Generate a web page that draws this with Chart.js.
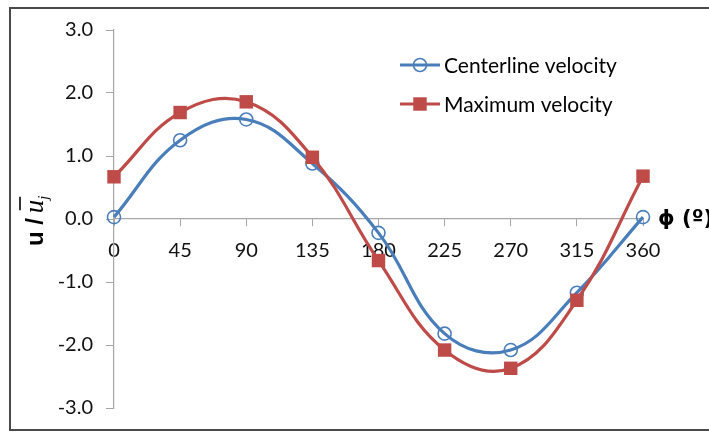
<!DOCTYPE html>
<html>
<head>
<meta charset="utf-8">
<script src="https://cdn.jsdelivr.net/npm/chart.js@4"></script>
<style>
  html, body { margin: 0; padding: 0; background: #fff; }
  #wrap { width: 709px; height: 433px; }
</style>
</head>
<body>
<div id="wrap"><canvas id="chart" width="709" height="433"></canvas></div>
<script>
// phase angle (deg) and normalised velocities
const angles = [0, 45, 90, 135, 180, 225, 270, 315, 360];
const centerline = [0.03, 1.25, 1.58, 0.88, -0.22, -1.82, -2.08, -1.17, 0.03];
const maximum = [0.67, 1.69, 1.86, 0.98, -0.66, -2.08, -2.37, -1.29, 0.68];
const seriesNames = ["Centerline velocity", "Maximum velocity"];
const yRange = [-3, 3];
const xRange = [0, 360];

const BLUE = "#4a7ebb";
const RED = "#be4b48";
const AXIS = "#a6a6a6";
const FONT = "Lato";

function points(ys) {
    return angles.map((a, i) => ({ x: a, y: ys[i] }));
}

// frame, axis titles and the legend box
const decorations = {
    id: "decorations",
    afterDraw(chart) {
        const ctx = chart.ctx;
        const ys = chart.scales.y;
        const area = chart.chartArea;
        ctx.save();

        ctx.strokeStyle = "#4a4a4a";
        ctx.lineWidth = 2;
        ctx.strokeRect(10, 8, 710, 422);

        // x title at the end of the axis
        ctx.fillStyle = "#000";
        ctx.font = "bold 21px 'DejaVu Sans'";
        ctx.textBaseline = "middle";
        ctx.textAlign = "left";
        ctx.fillText("\u03D5 (\u00BA)", area.right + 15, ys.getPixelForValue(0) + 1);

        // y title, rotated: u / ū_j
        ctx.translate(43, 216);
        ctx.rotate(-Math.PI / 2);
        ctx.textBaseline = "alphabetic";
        ctx.textAlign = "left";
        let x = -30;
        ctx.font = "bold 24px 'Liberation Sans'";
        ctx.fillText("u /", x, 0);
        x += ctx.measureText("u / ").width - 2;
        ctx.font = "italic 27px 'Liberation Serif'";
        const uw = ctx.measureText("u").width;
        ctx.fillText("u", x, 0);
        ctx.lineWidth = 1.6;
        ctx.strokeStyle = "#000";
        ctx.beginPath();
        ctx.moveTo(x + 3, -23);
        ctx.lineTo(x + uw + 3, -23);
        ctx.stroke();
        ctx.font = "italic 15px 'Liberation Serif'";
        ctx.fillText("j", x + uw, 5);
        ctx.setTransform(1, 0, 0, 1, 0, 0);

        // legend
        chart.data.datasets.forEach((ds, i) => {
            const ly = 65 + i * 39;
            ctx.strokeStyle = ds.borderColor;
            ctx.lineWidth = 3;
            ctx.beginPath();
            ctx.moveTo(400, ly);
            ctx.lineTo(440, ly);
            ctx.stroke();
            ctx.fillStyle = ds.pointBackgroundColor;
            ctx.strokeStyle = ds.pointBorderColor;
            ctx.lineWidth = ds.pointBorderWidth;
            ctx.beginPath();
            if (ds.pointStyle === "rect") {
                const s = ds.pointRadius * Math.SQRT1_2;
                ctx.rect(420 - s, ly - s, 2 * s, 2 * s);
                ctx.fill();
            } else {
                ctx.arc(420, ly, ds.pointRadius, 0, Math.PI * 2);
                ctx.stroke();
            }
            ctx.fillStyle = "#000";
            ctx.font = "21px " + FONT;
            ctx.textBaseline = "middle";
            ctx.textAlign = "left";
            ctx.fillText(ds.label, 444, ly + 1);
        });
        ctx.restore();
    }
};

new Chart(document.getElementById("chart"), {
    type: "line",
    data: {
        datasets: [
            {
                label: seriesNames[0],
                data: points(centerline),
                borderColor: BLUE,
                borderWidth: 3.2,
                tension: 0.4,
                pointStyle: "circle",
                pointRadius: 6.5,
                pointBorderWidth: 1.6,
                pointBorderColor: BLUE,
                pointBackgroundColor: "rgba(255,255,255,0)",
                clip: false,
                order: 1
            },
            {
                label: seriesNames[1],
                data: points(maximum),
                borderColor: RED,
                borderWidth: 3.2,
                tension: 0.4,
                pointStyle: "rect",
                pointRadius: 9.5,
                pointBorderWidth: 0,
                pointBorderColor: RED,
                pointBackgroundColor: RED,
                clip: false,
                order: 0
            }
        ]
    },
    options: {
        responsive: false,
        devicePixelRatio: 1,
        animation: false,
        layout: { padding: { left: 10, top: 30, right: 66, bottom: 23 } },
        plugins: { legend: { display: false }, tooltip: { enabled: false } },
        scales: {
            x: {
                type: "linear",
                position: { y: 0 },
                min: xRange[0],
                max: xRange[1],
                ticks: {
                    stepSize: 45,
                    color: "#111",
                    font: { family: FONT, size: 20 },
                    padding: 13,
                    maxRotation: 0
                },
                grid: { drawOnChartArea: false, drawTicks: true, tickLength: 7, color: AXIS },
                border: { color: AXIS, width: 1.2 }
            },
            y: {
                min: yRange[0],
                max: yRange[1],
                afterFit(scale) { scale.width = 104; },
                ticks: {
                    stepSize: 1,
                    color: "#111",
                    font: { family: FONT, size: 20 },
                    padding: 13,
                    callback: v => v.toFixed(1)
                },
                grid: { drawOnChartArea: false, drawTicks: true, tickLength: 8, color: AXIS },
                border: { color: AXIS, width: 1.2 }
            }
        }
    },
    plugins: [decorations]
});
</script>
</body>
</html>
